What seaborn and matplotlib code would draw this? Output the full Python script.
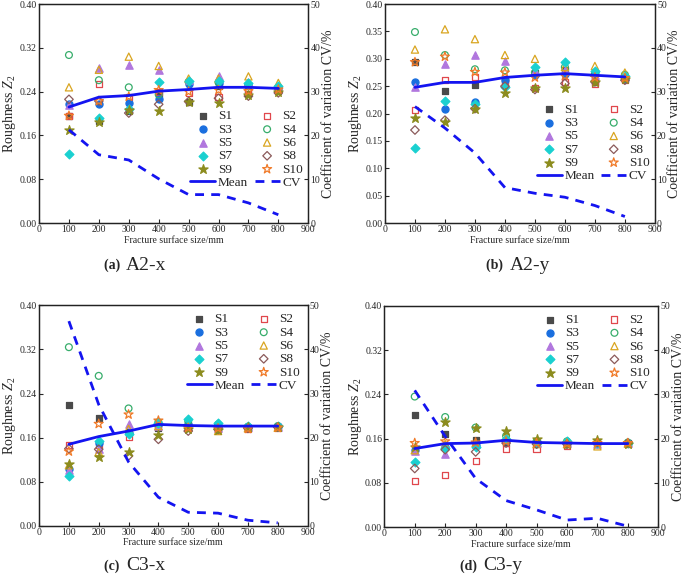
import matplotlib
matplotlib.use('Agg')
import matplotlib.pyplot as plt
import seaborn as sns
import pandas as pd

# fracture surface sizes (mm) and sample names
sizes = [100, 200, 300, 400, 500, 600, 700, 800]
names = ['S1', 'S2', 'S3', 'S4', 'S5', 'S6', 'S7', 'S8', 'S9', 'S10']

# roughness Z2, one row per sample (S1..S10)
a2x_z2 = [
    [0.195, 0.186, 0.205, 0.236, 0.222, 0.250, 0.235, 0.242],
    [0.195, 0.254, 0.231, 0.240, 0.238, 0.231, 0.243, 0.243],
    [0.217, 0.217, 0.220, 0.227, 0.254, 0.255, 0.253, 0.246],
    [0.307, 0.261, 0.248, 0.235, 0.258, 0.257, 0.252, 0.248],
    [0.216, 0.283, 0.289, 0.280, 0.262, 0.268, 0.258, 0.250],
    [0.248, 0.280, 0.304, 0.287, 0.264, 0.264, 0.268, 0.256],
    [0.126, 0.192, 0.209, 0.258, 0.260, 0.260, 0.256, 0.250],
    [0.226, 0.223, 0.201, 0.217, 0.222, 0.228, 0.232, 0.238],
    [0.170, 0.185, 0.207, 0.205, 0.222, 0.220, 0.234, 0.240],
    [0.196, 0.223, 0.231, 0.243, 0.240, 0.243, 0.241, 0.244],
]
a2x_mean = [0.212, 0.230, 0.233, 0.241, 0.244, 0.248, 0.248, 0.246]
a2x_cv = [21.3, 15.6, 14.4, 10.1, 6.5, 6.5, 4.6, 1.9]

a2y_z2 = [
    [0.295, 0.242, 0.253, 0.262, 0.275, 0.279, 0.257, 0.263],
    [0.207, 0.262, 0.266, 0.255, 0.246, 0.258, 0.255, 0.262],
    [0.258, 0.208, 0.222, 0.261, 0.270, 0.272, 0.276, 0.264],
    [0.349, 0.307, 0.281, 0.279, 0.275, 0.285, 0.272, 0.271],
    [0.249, 0.290, 0.307, 0.296, 0.278, 0.280, 0.270, 0.268],
    [0.317, 0.354, 0.336, 0.307, 0.300, 0.285, 0.287, 0.275],
    [0.138, 0.223, 0.218, 0.248, 0.286, 0.295, 0.277, 0.269],
    [0.170, 0.188, 0.209, 0.250, 0.244, 0.255, 0.258, 0.261],
    [0.192, 0.184, 0.209, 0.238, 0.247, 0.247, 0.258, 0.264],
    [0.294, 0.304, 0.276, 0.275, 0.266, 0.269, 0.266, 0.265],
]
a2y_mean = [0.248, 0.257, 0.257, 0.266, 0.270, 0.273, 0.270, 0.267]
a2y_cv = [26.6, 21.7, 16.0, 8.1, 6.8, 5.9, 4.0, 1.5]

c3x_z2 = [
    [0.219, 0.196, 0.170, 0.178, 0.180, 0.176, 0.178, 0.179],
    [0.147, 0.146, 0.161, 0.184, 0.182, 0.178, 0.176, 0.178],
    [0.104, 0.150, 0.168, 0.183, 0.185, 0.179, 0.180, 0.181],
    [0.324, 0.272, 0.213, 0.188, 0.190, 0.184, 0.180, 0.181],
    [0.102, 0.140, 0.184, 0.182, 0.181, 0.178, 0.179, 0.180],
    [0.110, 0.134, 0.176, 0.181, 0.179, 0.172, 0.177, 0.178],
    [0.091, 0.154, 0.167, 0.187, 0.193, 0.187, 0.181, 0.182],
    [0.140, 0.139, 0.127, 0.157, 0.172, 0.175, 0.177, 0.179],
    [0.113, 0.125, 0.134, 0.164, 0.175, 0.173, 0.179, 0.180],
    [0.135, 0.185, 0.202, 0.191, 0.178, 0.177, 0.176, 0.178],
]
c3x_mean = [0.148, 0.162, 0.172, 0.184, 0.182, 0.181, 0.181, 0.181]
c3x_cv = [46.4, 27.5, 14.5, 6.5, 3.1, 2.9, 1.3, 0.7]

c3y_z2 = [
    [0.202, 0.169, 0.157, 0.152, 0.152, 0.150, 0.154, 0.152],
    [0.083, 0.095, 0.119, 0.142, 0.142, 0.147, 0.150, 0.151],
    [0.140, 0.145, 0.148, 0.158, 0.153, 0.152, 0.152, 0.152],
    [0.236, 0.199, 0.180, 0.165, 0.155, 0.155, 0.153, 0.153],
    [0.137, 0.133, 0.150, 0.160, 0.152, 0.152, 0.151, 0.152],
    [0.139, 0.150, 0.152, 0.162, 0.150, 0.150, 0.146, 0.151],
    [0.117, 0.143, 0.145, 0.160, 0.152, 0.155, 0.152, 0.152],
    [0.106, 0.140, 0.136, 0.152, 0.150, 0.150, 0.153, 0.152],
    [0.145, 0.190, 0.180, 0.174, 0.160, 0.151, 0.157, 0.151],
    [0.152, 0.155, 0.153, 0.155, 0.152, 0.151, 0.152, 0.152],
]
c3y_mean = [0.142, 0.151, 0.152, 0.157, 0.153, 0.152, 0.151, 0.151]
c3y_cv = [30.9, 20.5, 11.0, 6.0, 3.9, 1.6, 2.0, 0.2]

colors = ['#4a4a4a', '#e0474c', '#1a6fdf', '#37ad6b', '#b177de',
          '#d9a520', '#1ad0d0', '#8b5a5a', '#8c8c1e', '#f07a28']
markers = ['s', 's', 'o', 'o', '^', '^', 'D', 'D', '*', '*']
msizes = [20, 19, 26, 24, 28, 27, 20, 19, 48, 46]
blue = '#1414f0'

sns.set_style('ticks')
plt.rcParams['font.family'] = ['Liberation Serif', 'DejaVu Serif']
plt.rcParams['mathtext.fontset'] = 'custom'
plt.rcParams['mathtext.rm'] = 'Liberation Serif'
plt.rcParams['mathtext.it'] = 'Liberation Serif:italic'


def draw_panel(fig, rect, z2, mean, cv, ystep, leg_loc, leg_anchor):
    ax = fig.add_axes(rect)
    for i, name in enumerate(names):
        df = pd.DataFrame({'size': sizes, 'z2': z2[i]})
        kw = dict(marker=markers[i], s=msizes[i], color=colors[i],
                  edgecolor=colors[i], linewidth=0.9, legend=False,
                  label=name, zorder=3)
        if i % 2 == 1:
            kw['facecolor'] = 'none'
        sns.scatterplot(data=df, x='size', y='z2', ax=ax, **kw)
    sns.lineplot(x=sizes, y=mean, ax=ax, color=blue, lw=2, label='Mean',
                 legend=False, zorder=4)
    ax2 = ax.twinx()
    sns.lineplot(x=sizes, y=cv, ax=ax2, color=blue, lw=2, label='CV',
                 linestyle=(0, (3.2, 2.6)), legend=False)

    ax.set_xlim(0, 900)
    ax.set_xticks(range(0, 1000, 100))
    ax.set_ylim(0, 0.40)
    n = int(round(0.40 / ystep))
    ticks = [k * ystep for k in range(n + 1)]
    ax.set_yticks(ticks)
    ax.set_yticklabels(['%.2f' % t for t in ticks])
    ax2.set_ylim(0, 50)
    ax2.set_yticks(range(0, 60, 10))

    ax.set_xlabel('Fracture surface size/mm', fontsize=7, labelpad=1)
    ax.set_ylabel('Roughness $Z_2$', fontsize=10, labelpad=1)
    ax2.set_ylabel('Coefficient of variation CV/%', fontsize=10, labelpad=1)
    for a in (ax, ax2):
        a.tick_params(direction='in', length=3, width=0.8, labelsize=7,
                      pad=1.5)
        for sp in a.spines.values():
            sp.set_linewidth(0.9)
            sp.set_color('#222222')

    h1, l1 = ax.get_legend_handles_labels()
    h2, l2 = ax2.get_legend_handles_labels()
    handles = dict(zip(l1 + l2, h1 + h2))
    order = ['S1', 'S3', 'S5', 'S7', 'S9', 'Mean',
             'S2', 'S4', 'S6', 'S8', 'S10', 'CV']
    ax2.legend([handles[k] for k in order], order, ncol=2, frameon=False,
               loc=leg_loc, bbox_to_anchor=leg_anchor, fontsize=9.5,
               labelspacing=0.08, columnspacing=0.5, handlelength=1.9,
               handletextpad=0.2, borderaxespad=0.2)
    return ax


fig = plt.figure(figsize=(6.85, 5.87), dpi=100)

draw_panel(fig, [0.057, 0.620, 0.393, 0.373], a2x_z2, a2x_mean, a2x_cv,
           0.08, 'lower right', (1.01, 0.12))
draw_panel(fig, [0.562, 0.620, 0.394, 0.373], a2y_z2, a2y_mean, a2y_cv,
           0.05, 'lower right', (1.01, 0.15))
draw_panel(fig, [0.057, 0.104, 0.392, 0.376], c3x_z2, c3x_mean, c3x_cv,
           0.08, 'upper right', (1.0, 1.0))
draw_panel(fig, [0.561, 0.102, 0.400, 0.377], c3y_z2, c3y_mean, c3y_cv,
           0.08, 'upper right', (1.0, 1.0))

captions = [('(a)', 'A2-x', 0.180, 0.548), ('(b)', 'A2-y', 0.740, 0.548),
            ('(c)', 'C3-x', 0.180, 0.036), ('(d)', 'C3-y', 0.702, 0.036)]
for tag, name, cx, cy in captions:
    fig.text(cx, cy, tag + ' ', fontsize=10, fontweight='bold',
             ha='right', va='center')
    fig.text(cx + 0.004, cy, name, fontsize=14, ha='left', va='center')

fig.savefig('out.png', dpi=100)
